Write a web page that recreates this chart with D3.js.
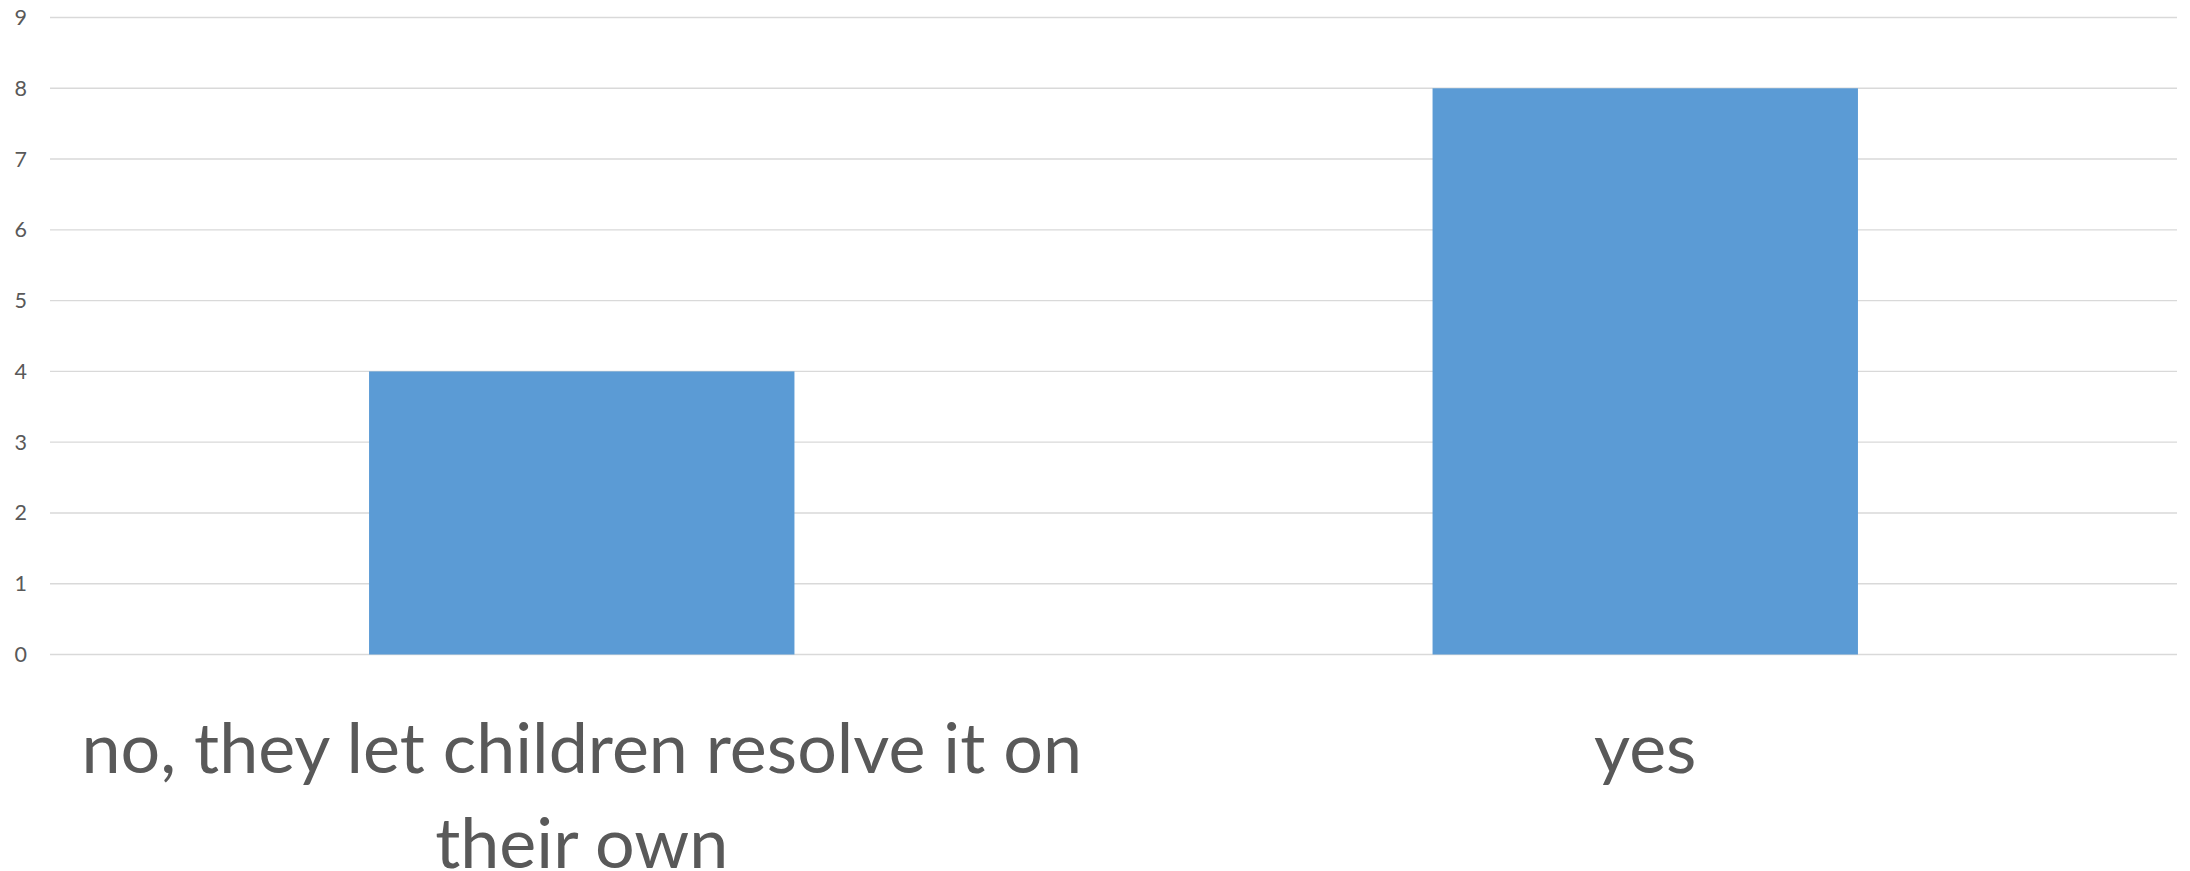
<!DOCTYPE html>
<html>
<head>
<meta charset="utf-8">
<script src="https://cdn.jsdelivr.net/npm/d3@7"></script>
<style>
  html, body { margin: 0; padding: 0; background: #fff; }
  svg { display: block; }
</style>
</head>
<body>
<svg id="chart" width="2190" height="871"></svg>
<script>
const categories = ["no, they let children resolve it on their own", "yes"];
const values = [4, 8];
const yTicks = [0, 1, 2, 3, 4, 5, 6, 7, 8, 9];

const W = 2190, H = 871;
const margin = { left: 50, right: 13, top: 17.5, bottom: 216.5 };
const svg = d3.select("#chart");

const x = d3.scaleBand()
  .domain(categories)
  .range([margin.left, W - margin.right])
  .paddingInner(0.6)
  .paddingOuter(0.3);

const y = d3.scaleLinear()
  .domain([0, 9])
  .range([H - margin.bottom, margin.top]);

// gridlines
svg.append("g")
  .selectAll("line")
  .data(yTicks)
  .join("line")
  .attr("x1", margin.left)
  .attr("x2", W - margin.right)
  .attr("y1", d => y(d))
  .attr("y2", d => y(d))
  .attr("stroke", "#d9d9d9")
  .attr("stroke-width", 1.4);

// y tick labels
svg.append("g")
  .selectAll("text")
  .data(yTicks)
  .join("text")
  .attr("x", 27)
  .attr("y", d => y(d))
  .attr("dy", "0.35em")
  .attr("text-anchor", "end")
  .attr("font-family", "Lato, 'Open Sans', sans-serif")
  .attr("font-size", 21.5)
  .attr("fill", "#595959")
  .text(d => d);

// bars
svg.append("g")
  .selectAll("rect")
  .data(values)
  .join("rect")
  .attr("x", (d, i) => x(categories[i]))
  .attr("width", x.bandwidth())
  .attr("y", d => y(d))
  .attr("height", d => y(0) - y(d))
  .attr("fill", "#5b9bd5");

// category labels with wrapping
const fontSize = 70;
const lineHeight = 95;
const firstBaseline = 773;
const labelG = svg.append("g");
categories.forEach(cat => {
  const cx = x(cat) + x.bandwidth() / 2;
  const maxW = x.step();
  const t = labelG.append("text")
    .attr("text-anchor", "middle")
    .attr("font-family", "Lato, 'Open Sans', sans-serif")
    .attr("font-size", fontSize)
    .attr("fill", "#595959");
  const words = cat.split(" ");
  let lines = [];
  let cur = [];
  const probe = t.append("tspan");
  words.forEach(w => {
    const test = cur.concat([w]).join(" ");
    probe.text(test);
    if (probe.node().getComputedTextLength() > maxW && cur.length) {
      lines.push(cur.join(" "));
      cur = [w];
    } else {
      cur.push(w);
    }
  });
  if (cur.length) lines.push(cur.join(" "));
  probe.remove();
  lines.forEach((ln, i) => {
    t.append("tspan")
      .attr("x", cx)
      .attr("y", firstBaseline + i * lineHeight)
      .text(ln);
  });
});
</script>
</body>
</html>
